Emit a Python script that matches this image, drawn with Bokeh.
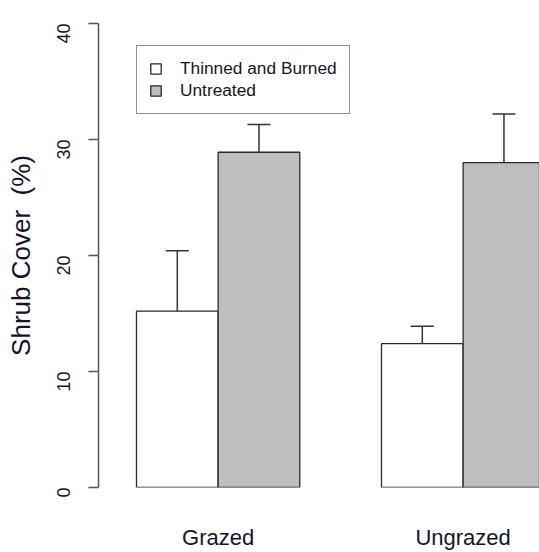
import math
from bokeh.plotting import figure
from bokeh.models import (ColumnDataSource, Whisker, TeeHead, Legend, LegendItem,
                          FixedTicker, Range1d)
from bokeh.embed import file_html
from bokeh.resources import INLINE

# ---- data ----
groups = ["Grazed", "Ungrazed"]
treatments = ["Thinned and Burned", "Untreated"]
thinned_mean = [15.2, 12.4]
thinned_upper = [20.4, 13.9]
untreated_mean = [28.9, 28.0]
untreated_upper = [31.3, 32.2]
y_ticks = [0, 10, 20, 30, 40]

FONT = "Liberation Sans"
TXT = "#15152a"

centers = [2 + 3 * i for i in range(len(groups))]
x_thin = [c - 0.5 for c in centers]
x_untr = [c + 0.5 for c in centers]

src_thin = ColumnDataSource(dict(x=x_thin, top=thinned_mean, upper=thinned_upper))
src_untr = ColumnDataSource(dict(x=x_untr, top=untreated_mean, upper=untreated_upper))

p = figure(width=539, height=552, x_range=Range1d(0.535, 5.935), y_range=Range1d(0, 40),
           output_backend="svg", toolbar_location=None,
           min_border_left=98, min_border_top=23, min_border_right=0, min_border_bottom=65)
p.outline_line_color = None
p.xgrid.visible = False
p.ygrid.visible = False
p.background_fill_color = "white"
p.border_fill_color = "white"

r1 = p.vbar(x="x", top="top", bottom=0, width=1, source=src_thin,
            fill_color="white", line_color="#2a2a2a", line_width=1.3)
r2 = p.vbar(x="x", top="top", bottom=0, width=1, source=src_untr,
            fill_color="#bebebe", line_color="#2a2a2a", line_width=1.3)

for src in (src_thin, src_untr):
    w = Whisker(base="x", lower="top", upper="upper", source=src, dimension="height",
                upper_head=TeeHead(size=23, line_color="#333333", line_width=1.5),
                lower_head=None, line_color="#333333", line_width=1.5, level="overlay")
    p.add_layout(w)

legend = Legend(items=[LegendItem(label=treatments[0], renderers=[r1]),
                       LegendItem(label=treatments[1], renderers=[r2])],
                location=(38, 373), margin=0, padding=12, spacing=1,
                glyph_width=13, glyph_height=13, label_standoff=18,
                label_height=21, label_text_font=FONT, label_text_font_size="17.3px",
                label_text_color=TXT, border_line_color="#222222", border_line_width=1,
                background_fill_color="white", background_fill_alpha=1.0)
p.add_layout(legend)

# y axis
ya = p.yaxis[0]
ya.ticker = FixedTicker(ticks=y_ticks)
ya.minor_tick_line_color = None
ya.major_tick_in = 0
ya.major_tick_out = 10
ya.major_label_orientation = math.pi / 2
ya.major_label_standoff = 25
ya.major_label_text_font = FONT
ya.major_label_text_font_size = "18px"
ya.major_label_text_color = TXT
ya.axis_line_color = "#555555"
ya.axis_line_width = 1.5
ya.major_tick_line_color = "#555555"
ya.major_tick_line_width = 1.5
ya.axis_label = "Shrub Cover\u00a0 (%)"
ya.axis_label_text_font = FONT
ya.axis_label_text_font_size = "26px"
ya.axis_label_text_font_style = "normal"
ya.axis_label_text_color = TXT
ya.axis_label_standoff = 12

# x axis (group labels only)
xa = p.xaxis[0]
xa.ticker = FixedTicker(ticks=centers)
xa.major_label_overrides = {c: g for c, g in zip(centers, groups)}
xa.axis_line_color = None
xa.major_tick_line_color = None
xa.minor_tick_line_color = None
xa.major_label_standoff = 31
xa.major_label_text_font = FONT
xa.major_label_text_font_size = "22px"
xa.major_label_text_color = TXT

open("out.html", "w").write(file_html(p, INLINE))
